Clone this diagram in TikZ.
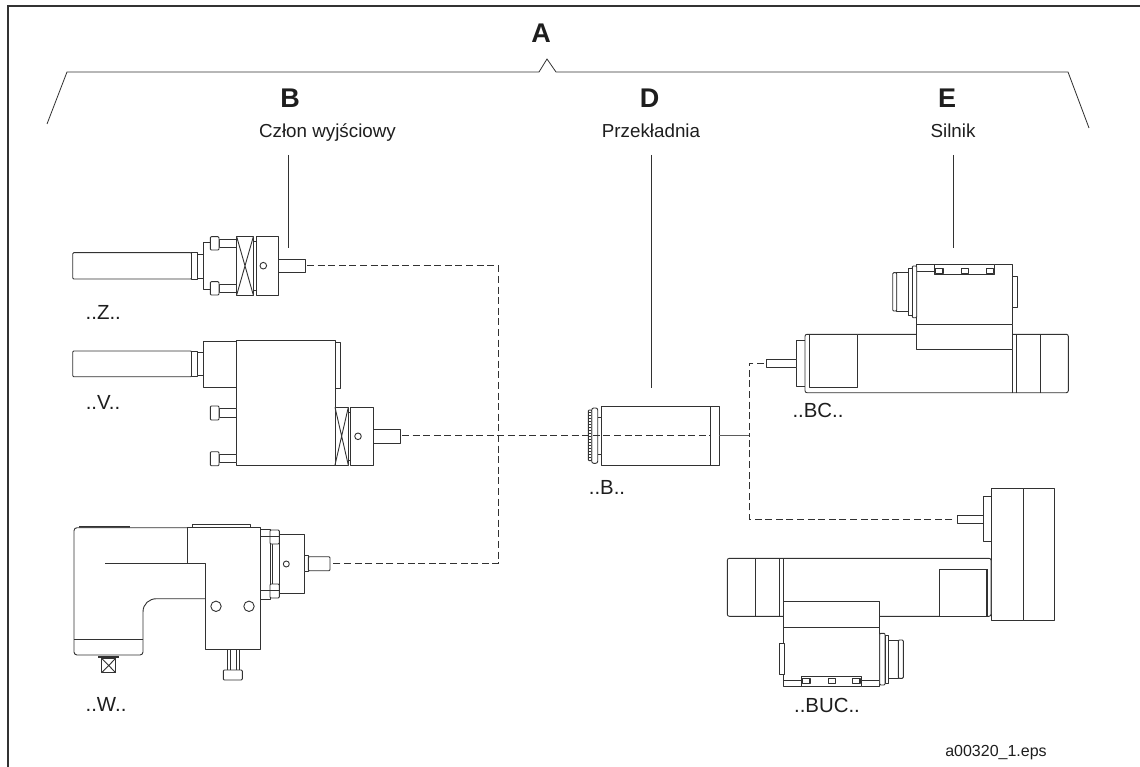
\documentclass[tikz,border=0pt]{standalone}
\usepackage{fontspec}
\setmainfont{Liberation Sans}
\usetikzlibrary{positioning,calc}
\definecolor{lineink}{RGB}{50,50,50}
\definecolor{textink}{RGB}{30,30,30}
\begin{document}
\begin{tikzpicture}[x=1pt,y=-1pt,
  partline/.style={draw=lineink, line width=0.9pt, fill=white, line join=round},
  heavyline/.style={draw=lineink, line width=1.5pt},
  linkline/.style={draw=lineink, line width=0.8pt, dash pattern=on 7pt off 3.6pt},
  leadline/.style={draw=lineink, line width=0.8pt},
  letterlab/.style={font=\fontsize{27}{27}\selectfont\bfseries, text=textink, inner sep=0pt},
  grouplab/.style={font=\fontsize{18.8}{19}\selectfont, text=textink, inner sep=0pt},
  typelab/.style={font=\fontsize{20.4}{21}\selectfont, text=textink, inner sep=0pt},
  filelab/.style={font=\fontsize{16}{16}\selectfont, text=textink, inner sep=0pt}]

  \useasboundingbox (0,0) rectangle (1140,767);

  % Frame and bracket
  \draw[draw=lineink, line width=1.6pt] (8,767) -- (8,6) -- (1140,6);
  \draw[leadline] (47,124) -- (67,72) -- (539,72) -- (547,59) -- (556,72) -- (1068,72) -- (1089,128);

  % Labels
  \node[letterlab] (lettera) at (541,33) {A};
  \node[letterlab] (letterb) at (290,98) {B};
  \node[letterlab] (letterd) at (649.5,98) {D};
  \node[letterlab] (lettere) at (947,98) {E};
  \node[grouplab] (output) at (327.5,133) {Człon wyjściowy};
  \node[grouplab] (gear)   at (651,131) {Przekładnia};
  \node[grouplab] (motor)  at (953,131) {Silnik};
  \node[typelab] (typez)   at (103.3,312) {..Z..};
  \node[typelab] (typev)   at (103,402.5) {..V..};
  \node[typelab] (typew)   at (106,704) {..W..};
  \node[typelab] (typeb)   at (607,487) {..B..};
  \node[typelab] (typebc)  at (818,410.5) {..BC..};
  \node[typelab] (typebuc) at (827,705.5) {..BUC..};
  \node[filelab] (fileid)  at (996,753) {a00320\_1.eps};

  % Leaders
  \coordinate (leadb) at (288,155);
  \coordinate (leadbend) at (288,248);
  \coordinate (leadd) at (651,155);
  \coordinate (leaddend) at (651,388);
  \coordinate (leade) at (953,155);
  \coordinate (leadeend) at (953,248);
  \draw[leadline] (leadb) -- (leadbend);
  \draw[leadline] (leadd) -- (leaddend);
  \draw[leadline] (leade) -- (leadeend);

  % Part Z
  \draw[partline, rounded corners=1pt] (72.7,252.7) rectangle (191.7,279);
  \draw[partline] (191.7,252.7) rectangle (197.3,279);
  \draw[partline] (197.3,254) rectangle (203.3,278);
  \draw[partline] (203.3,242.7) rectangle (236.7,289);
  \draw[partline] (219,239.3) rectangle (236.7,247.3);
  \draw[partline] (219,284) rectangle (236.7,292.3);
  \draw[partline, rounded corners=1pt] (210.3,236.7) rectangle (219,250);
  \draw[partline, rounded corners=1pt] (210.3,281.7) rectangle (219,295);
  \draw[partline] (236.7,236.7) rectangle (253.3,295);
  \draw[partline] (236.7,236.7) -- (253.3,295) (253.3,236.7) -- (236.7,295);
  \draw[partline] (253.3,241.7) rectangle (256,290);
  \draw[partline] (256,236.7) rectangle (278.7,295);
  \draw[partline] (263.3,265.7) circle (3.3);
  \draw[partline] (278.7,259) rectangle (305,272.7);
  \coordinate (zout) at (307,265.5);

  % Part V
  \draw[partline, rounded corners=1pt] (72.7,351) rectangle (191.7,376.7);
  \draw[partline] (191.7,351) rectangle (197.3,376.7);
  \draw[partline] (197.3,352.5) rectangle (203.3,375.5);
  \draw[partline] (203.3,341) rectangle (236.7,387);
  \draw[partline] (236.7,340.7) rectangle (335,465.7);
  \draw[partline] (335,342.7) rectangle (340.3,388.3);
  \draw[partline] (219,408.3) rectangle (236.7,417.3);
  \draw[partline] (219,454.3) rectangle (236.7,462.7);
  \draw[partline, rounded corners=1pt] (210.3,406) rectangle (219,420);
  \draw[partline, rounded corners=1pt] (210.3,451.7) rectangle (219,465.7);
  \draw[partline] (335,407.3) rectangle (348.3,465);
  \draw[partline] (335,407.3) -- (348.3,465) (348.3,407.3) -- (335,465);
  \draw[partline] (348.3,412) rectangle (350.7,460);
  \draw[partline] (350.7,407.3) rectangle (373,465.7);
  \draw[partline] (358,436.3) circle (3.3);
  \draw[partline] (373,429.3) rectangle (400,443.3);
  \coordinate (vout) at (402,435.5);

  % Part W
  \draw[heavyline] (79,527) -- (130,527);
  \draw[partline] (192.7,527.3) -- (192.7,524.3) -- (250.7,524.3) -- (250.7,527.3);
  \draw[partline, rounded corners=3pt] (187.3,527.7) -- (74,527.7) -- (74,655) -- (143,655) -- (143,639);
  \draw[partline] (74,639) -- (143,639);
  \draw[partline] (143,639) -- (143,612) .. controls (143,604) and (149,598.7) .. (156.7,598.7) -- (205,598.7);
  \draw[partline, fill=none] (187.3,527.3) -- (260.3,527.3) -- (260.3,649.3) -- (205,649.3) -- (205,563.7) -- (105,563.7);
  \draw[partline, fill=none] (187.3,527.3) -- (187.3,563.7);
  \draw[partline] (216,606.3) circle (5.2);
  \draw[partline] (249,606.3) circle (5.2);
  \draw[partline] (227,649.3) rectangle (239,670);
  \draw[partline] (230,649.3) -- (230,670) (236,649.3) -- (236,670);
  \draw[partline, rounded corners=1pt] (223.3,670) rectangle (242.3,680);
  \draw[partline] (101.7,658.3) rectangle (115.7,672.7);
  \draw[partline] (101.7,658.3) -- (115.7,672.7) (115.7,658.3) -- (101.7,672.7);
  \draw[heavyline] (98.3,657) -- (119,657);
  \draw[partline] (260.3,529.3) rectangle (270,599);
  \draw[partline] (270,534) rectangle (272,594);
  \draw[partline, rounded corners=1pt] (270,530) rectangle (279.3,544);
  \draw[partline, rounded corners=1pt] (270,584) rectangle (279.3,598);
  \draw[partline] (261,536.7) -- (279,536.7) (261,590.7) -- (279,590.7);
  \draw[partline] (279.3,534.7) rectangle (304.3,593.3);
  \draw[partline] (286.3,564) circle (3);
  \draw[partline] (304.3,555.7) rectangle (308.3,571.7);
  \draw[partline, rounded corners=1pt] (308.3,556.7) rectangle (330,570.7);
  \coordinate (wout) at (331,563.5);

  % Part B
  \draw[partline] (601.3,406.7) rectangle (710.7,465);
  \draw[partline] (710.7,406.7) rectangle (719.3,465);
  \draw[draw=lineink, line width=1.2pt] (710.7,406.7) -- (710.7,465);
  \draw[partline] (597.7,417) -- (601.3,417) (597.7,454) -- (601.3,454);
  \draw[partline, rounded corners=2pt] (591.7,408) rectangle (597.7,463.3);
  \draw[partline, rounded corners=1pt] (588.3,410) rectangle (591.7,460.7);
  \foreach \k in {0,...,16} {
    \draw[lineink, line width=0.6pt] (588.6,{412+3*\k}) -- (591.4,{412+3*\k});
  }
  \coordinate (bout) at (719.3,435.5);

  % Motor BC
  \draw[partline] (796.7,340) rectangle (805,386.7);
  \draw[partline] (766,359.3) rectangle (796.7,367.7);
  \draw[partline, rounded corners=2pt] (805,334.3) rectangle (1068.3,392.7);
  \draw[partline] (809.3,334.3) rectangle (857.7,387);
  \draw[partline, fill=none] (1012.7,334.3) -- (1012.7,392.7) (1016.7,334.3) -- (1016.7,392.7) (1040.7,334.3) -- (1040.7,392.7);
  \draw[partline] (1012.7,276.7) rectangle (1017.7,307);
  \draw[partline] (916.7,264.3) rectangle (1012,324);
  \draw[partline] (916,324) rectangle (1012.7,349.7);
  \draw[partline] (934.7,264.3) rectangle (994.7,274);
  \draw[partline] (910,271.7) -- (934.7,271.7);
  \foreach \xa in {939.3,964.7,989.7} {
    \draw[partline, line width=1.2pt] (\xa-3.6,268.5) rectangle (\xa+3.6,273.5);
  }
  \draw[partline, rounded corners=1pt] (912.3,266) rectangle (916.7,317.7);
  \draw[partline] (908.3,268) rectangle (912.3,315.7);
  \draw[partline] (896.7,272.7) rectangle (908.3,311);
  \draw[partline, rounded corners=1pt] (892.7,272.7) rectangle (896.7,311);
  \coordinate (bcin) at (764,363.3);

  % Motor BUC
  \draw[partline] (991,488.7) rectangle (1054.3,620.3);
  \draw[partline] (1023.7,488.7) -- (1023.7,620.3);
  \draw[partline] (983.3,496.7) rectangle (991,541.3);
  \draw[partline] (957,515) rectangle (983.3,523.3);
  \draw[partline, rounded corners=2pt] (727.3,558.3) -- (991,558.3) -- (991,616.3) -- (727.3,616.3) -- cycle;
  \draw[partline, fill=none] (755,558.3) -- (755,616.3) (779.3,558.3) -- (779.3,616.3) (783.3,558.3) -- (783.3,616.3);
  \draw[partline] (939.3,569.3) rectangle (987.7,616.3);
  \draw[heavyline] (986.8,569.3) -- (986.8,616.3);
  \draw[partline] (783.3,601) rectangle (879.7,627);
  \draw[partline] (783.3,627) rectangle (879.3,686.7);
  \draw[partline] (779.3,643.7) rectangle (784.3,674.3);
  \draw[partline] (801.7,676.7) rectangle (861.7,686.7);
  \draw[partline] (783.3,680.7) -- (801.7,680.7) (861.7,680.7) -- (879.3,680.7);
  \foreach \xa in {806.3,831.7,856.3} {
    \draw[partline, line width=1.2pt] (\xa-3.6,678.5) rectangle (\xa+3.6,683.5);
  }
  \draw[partline, rounded corners=1pt] (879.7,633.3) rectangle (885,685);
  \draw[partline] (885,635.7) rectangle (888.3,683.3);
  \draw[partline] (888.3,640) rectangle (898.3,678.3);
  \draw[partline, rounded corners=1pt] (898.3,640) rectangle (903.3,678.3);
  \coordinate (bucin) at (952.3,519.3);

  % Links
  \coordinate (splitout) at (498,265.5);
  \coordinate (splitw) at (498,563.5);
  \coordinate (splitm) at (749.3,435.5);
  \draw[linkline] (zout) -- (splitout) -- (splitw) -- (wout);
  \draw[linkline] (vout) -- ($(bout)+(-8,0)$);
  \draw[draw=lineink!80, line width=0.6pt] (bout) -- (splitm);
  \draw[linkline] (bcin) -| (splitm);
  \draw[linkline] (bucin) -| (splitm);
\end{tikzpicture}
\end{document}
